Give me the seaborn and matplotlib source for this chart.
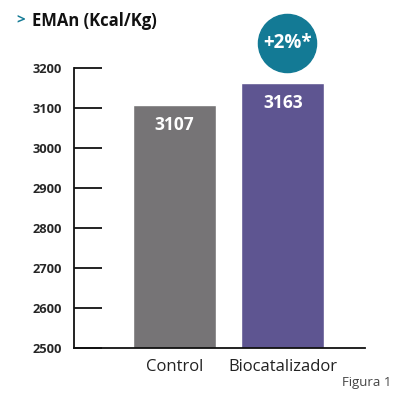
import matplotlib
matplotlib.use("Agg")
import matplotlib.pyplot as plt
import seaborn as sns
import pandas as pd

categories = ["Control", "Biocatalizador"]
values = [3107, 3163]
bar_labels = ["3107", "3163"]
yticks = [2500, 2600, 2700, 2800, 2900, 3000, 3100, 3200]
badge = "+2%*"

sns.set_style("white")
plt.rcParams['font.family'] = ['Open Sans', 'DejaVu Sans']

df = pd.DataFrame({"group": categories, "eman": values})

fig = plt.figure(figsize=(4, 3.96), dpi=100)
ax = fig.add_axes([0.185, 0.121, 0.7275, 0.707])
sns.barplot(data=df, x="group", y="eman", hue="group", saturation=1,
            palette=["#767476", "#5e5591"], width=0.77, legend=False, ax=ax)

ax.set_ylim(2500, 3200)
ax.set_xlim(-0.93, 1.76)
ax.set_yticks(yticks)
ax.set_yticklabels([str(t) for t in yticks], fontweight="bold", fontsize=9.3)
ax.tick_params(axis="y", direction="in", length=20, width=1.3, color="#111111", pad=9, left=True)
ax.tick_params(axis="x", length=0, pad=8, labelsize=12, labelcolor="#222222")
ax.set_xlabel("")
ax.set_ylabel("")
for s in ["top", "right"]:
    ax.spines[s].set_visible(False)
for s in ["left", "bottom"]:
    ax.spines[s].set_color("#111111")
    ax.spines[s].set_linewidth(1.3)

for i, v in enumerate(values):
    ax.text(i, v - 50, bar_labels[i], ha="center", va="center",
            color="white", fontweight="bold", fontsize=12.5)

# badge above the second bar
ax.scatter([1.04], [3262], s=1750, color="#137a95", clip_on=False, zorder=5)
ax.text(1.04, 3262, badge, ha="center", va="center", color="white",
        fontweight="bold", fontsize=13.5, zorder=6, clip_on=False)

fig.text(0.04, 0.948, ">", color="#137a95", fontweight="bold", fontsize=11, va="center")
fig.text(0.08, 0.948, "EMAn (Kcal/Kg)", color="#111111", fontweight="bold", fontsize=12, va="center")
fig.text(0.978, 0.033, "Figura 1", color="#444444", fontsize=9.5, ha="right", va="center")

fig.savefig("out.png", dpi=100)
